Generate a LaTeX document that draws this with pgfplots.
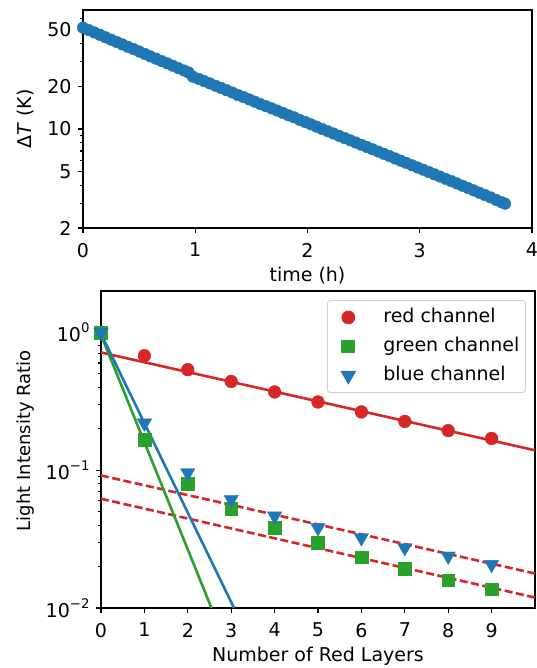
\documentclass[border=0pt]{standalone}
\usepackage{pgfplots}
\pgfplotsset{compat=1.18}
\usepackage{fontspec}
\setmainfont{DejaVu Sans}

\definecolor{tabblue}{RGB}{31,119,180}
\definecolor{tabred}{RGB}{214,39,40}
\definecolor{tabgreen}{RGB}{44,160,44}

\newcommand{\sups}[1]{10\raisebox{0.45em}{\fontsize{13.3}{14}\selectfont #1}}

\pgfplotsset{
  mpl/.style={
    scale only axis,
    axis line style={line width=1.1pt},
    every tick/.style={line width=1.1pt, black},
    tick align=outside,
    tick pos=left,
    major tick length=5pt,
    minor tick length=3pt,
    /pgf/number format/assume math mode=true,
    xticklabel style={yshift=-3.5pt},
  },
}

% time (h), Delta T (K) -- two stretches, a short pause near 0.95 h
\pgfplotstableread{
t    dT
0.00 52.0
0.05 50.0
0.10 48.1
0.15 46.3
0.20 44.5
0.25 42.8
0.30 41.2
0.35 39.6
0.40 38.1
0.45 36.7
0.50 35.3
0.55 33.9
0.60 32.6
0.65 31.4
0.70 30.2
0.75 29.1
0.80 28.0
0.85 26.9
0.90 25.9
0.94 25.1
}\coolA
\pgfplotstableread{
t    dT
0.98 23.4
1.03 22.6
1.08 21.8
1.13 21.0
1.18 20.2
1.23 19.5
1.28 18.8
1.33 18.1
1.38 17.4
1.43 16.8
1.48 16.2
1.53 15.6
1.58 15.0
1.63 14.5
1.68 14.0
1.73 13.5
1.78 13.0
1.83 12.5
1.88 12.1
1.93 11.6
1.98 11.2
2.03 10.8
2.08 10.4
2.13 10.0
2.18 9.65
2.23 9.30
2.28 8.96
2.33 8.64
2.38 8.33
2.43 8.03
2.48 7.74
2.53 7.46
2.58 7.19
2.63 6.93
2.68 6.68
2.73 6.44
2.78 6.20
2.83 5.98
2.88 5.76
2.93 5.55
2.98 5.35
3.03 5.16
3.08 4.97
3.13 4.79
3.18 4.62
3.23 4.45
3.28 4.29
3.33 4.13
3.38 3.98
3.43 3.83
3.48 3.69
3.53 3.55
3.58 3.42
3.63 3.29
3.68 3.16
3.73 3.04
3.76 2.97
}\coolB

\begin{document}
\fontsize{19}{23}\selectfont
\begin{tikzpicture}[x=1pt,y=1pt]
\path[use as bounding box] (0,0) rectangle (537,668);

% top: cooling curve
\begin{axis}[mpl,
  at={(83pt,440pt)}, anchor=south west,
  width=449pt, height=218pt,
  ymode=log,
  xmin=0, xmax=4, ymin=2, ymax=69.3,
  xtick={0,1,2,3,4},
  ytick={2,5,10,20,50},
  yticklabels={2,5,10,20,50},
  minor ytick={3,4,6,7,8,9,30,40,60},
  xlabel={time (h)},
  ylabel={Δ\textit{T} (K)},
  xlabel style={at={(axis description cs:0.5,-0.216)}, anchor=center},
  ylabel style={at={(axis description cs:-0.129,0.5)}, anchor=center},
]
\addplot[only marks, mark=*, mark size=5.8pt, color=tabblue] table[x=t, y=dT] {\coolA};
\addplot[only marks, mark=*, mark size=5.8pt, color=tabblue] table[x=t, y=dT] {\coolB};
\end{axis}

% bottom: light through red layers
\begin{axis}[mpl,
  at={(101pt,60pt)}, anchor=south west,
  width=434pt, height=317pt,
  ymode=log,
  xmin=0, xmax=10, ymin=0.01, ymax=2.0,
  xtick={0,1,2,3,4,5,6,7,8,9},
  ytick={0.01,0.1,1},
  yticklabels={\sups{−2},\sups{−1},\sups{0}},
  minor ytick={0.02,0.03,0.04,0.05,0.06,0.07,0.08,0.09,0.2,0.3,0.4,0.5,0.6,0.7,0.8,0.9},
  xlabel={Number of Red Layers},
  ylabel={Light Intensity Ratio},
  xlabel style={at={(axis description cs:0.5,-0.151)}, anchor=center},
  ylabel style={at={(axis description cs:-0.175,0.528)}, anchor=center,
    font=\fontsize{18}{21}\selectfont},
  legend cell align=left,
  legend style={at={(0.979,0.9716)}, anchor=north east,
    draw=black!18, line width=0.9pt, rounded corners=3pt,
    inner xsep=5pt, inner ysep=7pt,
    row sep=9pt, column sep=24pt,
    nodes={inner sep=1pt, text height=14pt, text depth=4pt}},
  legend image code/.code={
    \path[draw=none, fill=none] (-16pt,-6pt) rectangle (10pt,6pt);
    \draw[#1] plot coordinates {(0pt,0pt)};},
]
% fitted lines
\addplot[forget plot, tabred, line width=2.6pt] coordinates {(0,0.716) (10,0.1396)};
\addplot[forget plot, tabred, line width=2.6pt, dash pattern=on 8pt off 3.5pt] coordinates {(0,0.0916) (10,0.0178)};
\addplot[forget plot, tabred, line width=2.6pt, dash pattern=on 8pt off 3.5pt] coordinates {(0,0.0621) (10,0.0119)};
\addplot[forget plot, tabgreen, line width=2.6pt] coordinates {(0,0.96) (2.545,0.01)};
\addplot[forget plot, tabblue, line width=2.6pt] coordinates {(0,0.98) (3.065,0.01)};
% measured ratios
\addplot[only marks, mark=*, mark size=6.4pt, color=tabred] coordinates {
  (1,0.678) (2,0.537) (3,0.441) (4,0.370) (5,0.313)
  (6,0.265) (7,0.226) (8,0.194) (9,0.170)};
\addlegendentry{red channel}
\addplot[only marks, mark=square*, mark size=6.4pt, color=tabgreen] coordinates {
  (0,1.0) (1,0.167) (2,0.0797) (3,0.0528) (4,0.0382) (5,0.0298)
  (6,0.0234) (7,0.0193) (8,0.0159) (9,0.0137)};
\addlegendentry{green channel}
\addplot[only marks, mark=triangle*, mark size=8.3pt, mark options={rotate=180}, color=tabblue] coordinates {
  (0,1.0) (1,0.220) (2,0.0957) (3,0.0614) (4,0.0465) (5,0.0382)
  (6,0.0323) (7,0.0274) (8,0.0238) (9,0.0207)};
\addlegendentry{blue channel}
\end{axis}
\end{tikzpicture}
\end{document}
